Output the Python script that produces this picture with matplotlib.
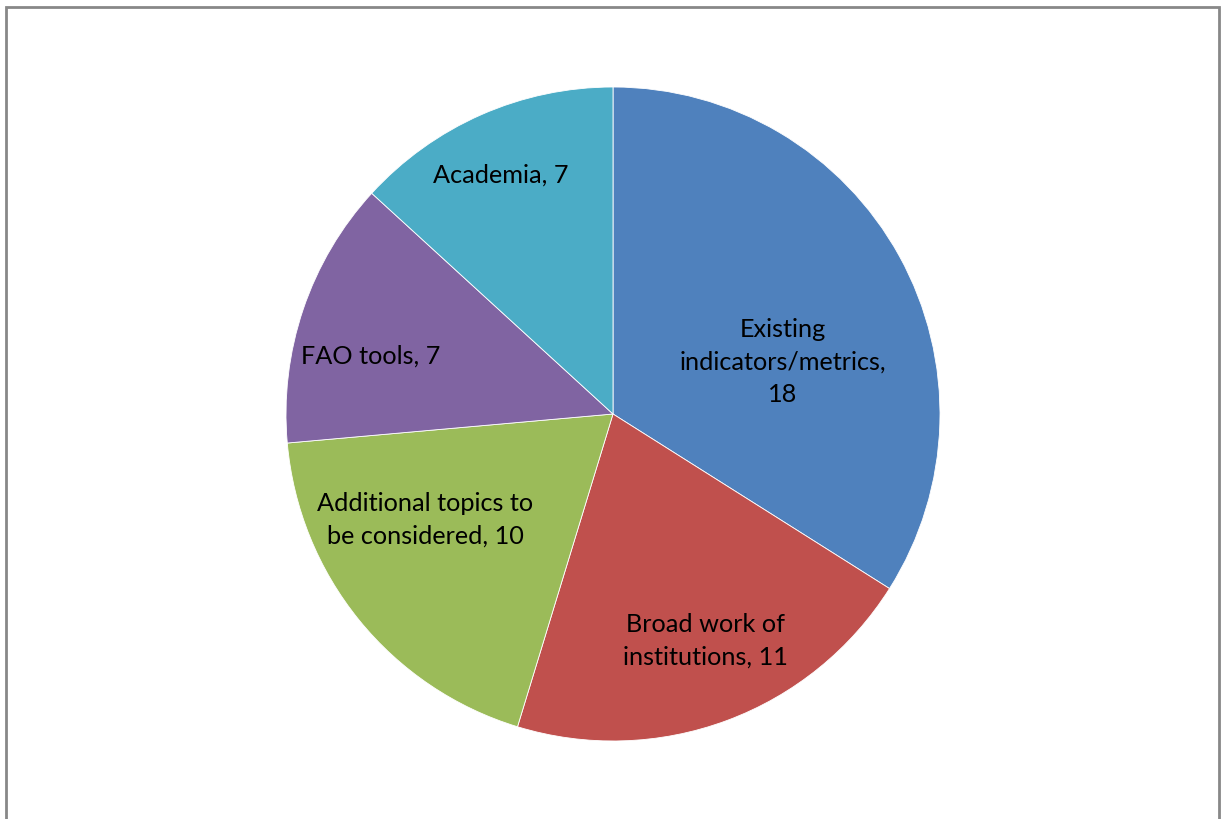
import matplotlib.pyplot as plt
from matplotlib.patches import Rectangle

labels = ['Existing\nindicators/metrics,\n18', 'Broad work of\ninstitutions, 11',
          'Additional topics to\nbe considered, 10', 'FAO tools, 7', 'Academia, 7']
values = [18, 11, 10, 7, 7]
colors = ['#4F81BD', '#C0504D', '#9BBB59', '#8064A2', '#4BACC6']

# label anchor points (pixels from top-left), Excel "best fit" placement
label_pos = [(783, 362), (705, 641), (425, 520), (371, 356), (501, 175)]


def main():
	fig = plt.figure(figsize=(12.21, 8.19), dpi=100)
	fig.patches.append(Rectangle((6 / 1221, -0.1), 1213 / 1221, 1.1 - 7 / 819,
		transform=fig.transFigure, fill=False, edgecolor='#888888', linewidth=2))

	ax = fig.add_axes([0, 0, 1, 1])
	ax.pie(values, colors=colors, startangle=90, counterclock=False,
		center=(613, 819 - 414), radius=327,
		wedgeprops=dict(edgecolor='white', linewidth=0.6))
	ax.set_xlim(0, 1221)
	ax.set_ylim(0, 819)
	ax.set_aspect('equal')
	ax.axis('off')

	for lab, (x, y) in zip(labels, label_pos):
		ax.text(x, 819 - y, lab, ha='center', va='center', fontsize=18.2,
			family='Lato', linespacing=1.49, color='black')

	fig.savefig('out.png', dpi=100)


if __name__ == "__main__":
	main()
